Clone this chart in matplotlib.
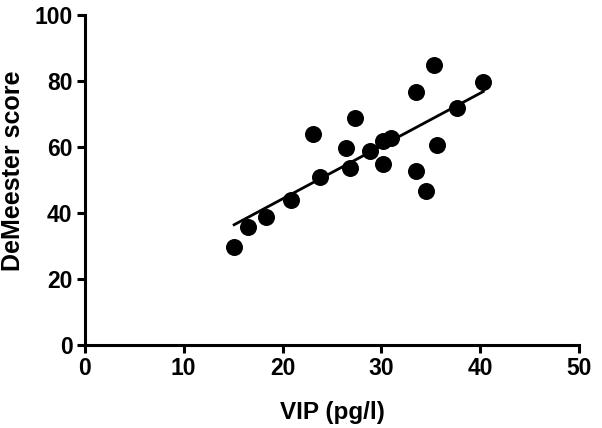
import numpy as np
import matplotlib
matplotlib.use("Agg")
from matplotlib import pyplot as plt

# VIP (pg/l) vs DeMeester score
vip = [15.1, 16.5, 18.3, 20.9, 23.1, 23.8, 26.4, 26.8, 27.3, 28.8,
       30.2, 30.2, 31.0, 33.5, 33.5, 34.5, 35.3, 35.6, 37.6, 40.3]
demeester = [29.6, 35.7, 38.7, 43.8, 63.8, 50.9, 59.8, 53.7, 68.7, 58.7,
             54.7, 61.8, 62.8, 76.8, 52.7, 46.6, 84.9, 60.6, 71.7, 79.8]

x_ticks = [0, 10, 20, 30, 40, 50]
y_ticks = [0, 20, 40, 60, 80, 100]

plt.rcParams['font.family'] = ['Liberation Sans', 'DejaVu Sans']
plt.rcParams['font.weight'] = 'bold'

fig = plt.figure(figsize=(6.02, 4.28), dpi=100)
ax = fig.add_axes([0.141, 0.194, 0.821, 0.771])

ax.scatter(vip, demeester, s=150, color='black', zorder=3, linewidths=0)

# linear regression over the data range
slope, intercept = np.polyfit(vip, demeester, 1)
xs = np.array([min(vip), max(vip)])
ax.plot(xs, slope * xs + intercept, color='black', lw=2.0, zorder=2)

ax.set_xlim(0, 50)
ax.set_ylim(0, 100)
ax.set_xticks(x_ticks)
ax.set_yticks(y_ticks)

for side in ['top', 'right']:
    ax.spines[side].set_visible(False)
for side in ['left', 'bottom']:
    ax.spines[side].set_linewidth(2.2)

ax.tick_params(width=2.2, length=6, labelsize=16.5, pad=3)
for lab in ax.get_xticklabels() + ax.get_yticklabels():
    lab.set_fontweight('bold')

ax.set_xlabel('VIP (pg/l)', fontsize=17.5, fontweight='bold', labelpad=15)
ax.set_ylabel('DeMeester score', fontsize=18, fontweight='bold')
ax.yaxis.set_label_coords(-0.121, 0.527)

fig.savefig('out.png', dpi=100)
